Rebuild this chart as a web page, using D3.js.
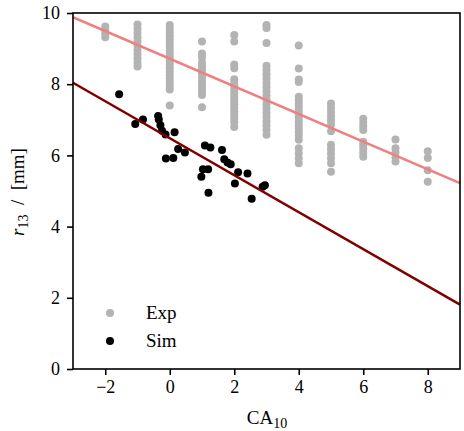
<!DOCTYPE html>
<html lang="en">
<head>
  <meta charset="UTF-8">
  <title>r13 vs CA10</title>
  <script src="https://d3js.org/d3.v7.min.js"></script>
  <style>
    body { margin: 0; background: #fff; }
    svg text { font-family: "Liberation Serif", "DejaVu Serif", serif; }
  </style>
</head>
<body>
<div id="chart"></div>
<script>
// experiment columns: CA10 value and the r13 values measured there
const expX = [-2, -1, 0, 1, 2, 3, 4, 5, 6, 7, 8];
const expY = [
  [9.62, 9.52, 9.42, 9.32],
  [9.68, 9.56, 9.44, 9.32, 9.2, 9.08, 8.96, 8.84, 8.72, 8.6, 8.5],
  [9.66, 9.55, 9.45, 9.35, 9.25, 9.15, 9.05, 8.95, 8.85, 8.75, 8.65, 8.55, 8.45, 8.35, 8.25, 8.15, 8.05, 7.95, 7.85, 7.4],
  [9.2, 8.86, 8.75, 8.6, 8.5, 8.4, 8.3, 8.2, 8.1, 8.0, 7.9, 7.8, 7.7, 7.35],
  [9.38, 9.2, 8.55, 8.45, 8.14, 8.04, 7.94, 7.84, 7.74, 7.64, 7.54, 7.44, 7.34, 7.24, 7.14, 7.04, 6.94, 6.8],
  [9.66, 9.58, 9.16, 8.52, 8.4, 8.28, 8.16, 8.04, 7.92, 7.8, 7.68, 7.56, 7.44, 7.32, 7.2, 7.08, 6.96, 6.84, 6.72, 6.58],
  [9.09, 8.44, 8.13, 8.06, 7.65, 7.55, 7.45, 7.35, 7.25, 7.15, 7.05, 6.95, 6.85, 6.75, 6.65, 6.55, 6.44, 6.2, 6.06, 5.92, 5.78],
  [7.46, 7.34, 7.22, 7.1, 6.98, 6.86, 6.68, 6.3, 6.18, 6.05, 5.92, 5.78, 5.54],
  [7.03, 6.92, 6.82, 6.71, 6.38, 6.28, 6.18, 6.07, 5.96],
  [6.45, 6.2, 6.08, 5.95, 5.83],
  [6.12, 5.93, 5.58, 5.26]
];

// simulation points
const simX = [-1.57, -1.07, -0.83, -0.36, -0.34, -0.29, -0.24, -0.13, 0.15, 0.26, 0.47, -0.12, 0.11,
  1.09, 1.26, 1.62, 1.69, 1.79, 1.89, 2.12, 2.41, 1.03, 1.19, 0.98, 2.02, 1.2, 2.54, 2.88, 2.95];
const simY = [7.72, 6.88, 7.01, 7.11, 7.01, 6.85, 6.69, 6.59, 6.65, 6.18, 6.08, 5.91, 5.93,
  6.28, 6.22, 6.15, 5.89, 5.8, 5.75, 5.53, 5.49, 5.61, 5.61, 5.4, 5.21, 4.95, 4.78, 5.12, 5.16];

// fitted lines, value at each end of the x range
const fitX = [-3, 9];
const expFit = [9.88, 5.22];
const simFit = [8.04, 1.81];

const xTicks = [-2, 0, 2, 4, 6, 8];
const yTicks = [0, 2, 4, 6, 8, 10];

const w = 464, h = 431;
const margin = {top: 13, right: 4, bottom: 62, left: 73};
const gw = w - margin.left - margin.right;
const gh = h - margin.top - margin.bottom;

const svg = d3.select("#chart").append("svg")
  .attr("width", w)
  .attr("height", h);

const graph = svg.append("g")
  .attr("transform", `translate(${margin.left},${margin.top})`);

const x = d3.scaleLinear().domain([-3, 9]).range([0, gw]);
const y = d3.scaleLinear().domain([0, 10]).range([gh, 0]);

const fmt = d => d < 0 ? "\u2212" + Math.abs(d) : "" + d;

// experiment points
const expPts = [];
expX.forEach((cx, i) => expY[i].forEach(v => expPts.push([cx, v])));

graph.selectAll("circle.exp")
  .data(expPts)
  .enter().append("circle")
    .attr("class", "exp")
    .attr("cx", d => x(d[0]))
    .attr("cy", d => y(d[1]))
    .attr("r", 4)
    .attr("fill", "#b3b3b3");

graph.selectAll("circle.sim")
  .data(simX.map((v, i) => [v, simY[i]]))
  .enter().append("circle")
    .attr("class", "sim")
    .attr("cx", d => x(d[0]))
    .attr("cy", d => y(d[1]))
    .attr("r", 4)
    .attr("fill", "#000");

const line = d3.line().x(d => x(d[0])).y(d => y(d[1]));

graph.append("path")
  .datum(fitX.map((v, i) => [v, expFit[i]]))
  .attr("d", line)
  .attr("stroke", "#f08080")
  .attr("stroke-width", 2.5)
  .attr("fill", "none");

graph.append("path")
  .datum(fitX.map((v, i) => [v, simFit[i]]))
  .attr("d", line)
  .attr("stroke", "#800000")
  .attr("stroke-width", 2.5)
  .attr("fill", "none");

// frame
graph.append("rect")
  .attr("width", gw)
  .attr("height", gh)
  .attr("fill", "none")
  .attr("stroke", "#000")
  .attr("stroke-width", 1.6);

const xAxis = d3.axisBottom(x).tickValues(xTicks).tickFormat(fmt).tickSize(6).tickPadding(5);
const yAxis = d3.axisLeft(y).tickValues(yTicks).tickFormat(fmt).tickSize(6).tickPadding(7);

const xg = graph.append("g").attr("transform", `translate(0,${gh})`).call(xAxis);
const yg = graph.append("g").call(yAxis);

[xg, yg].forEach(g => {
  g.attr("font-family", null);
  g.select(".domain").remove();
  g.selectAll("line").attr("stroke-width", 1.6);
  g.selectAll("text")
    .style("font-family", "'Liberation Serif', serif")
    .style("font-size", "18px")
    .attr("fill", "#000");
});

// axis titles
const xt = svg.append("text")
  .attr("x", 267)
  .attr("y", 424)
  .attr("text-anchor", "middle")
  .style("font-size", "19px");
xt.append("tspan").text("CA");
xt.append("tspan").style("font-size", "14px").attr("dy", 4).text("10");

const yt = svg.append("text")
  .attr("transform", "translate(24,192) rotate(-90)")
  .attr("text-anchor", "middle")
  .style("font-size", "19px");
yt.append("tspan").attr("font-style", "italic").text("r");
yt.append("tspan").style("font-size", "14px").attr("dy", 4).text("13");
yt.append("tspan").attr("dy", -4).text("\u2002/\u2002[mm]");

// legend
const legend = [
  {label: "Exp", color: "#b3b3b3"},
  {label: "Sim", color: "#000"}
];
const lg = svg.selectAll("g.legend")
  .data(legend)
  .enter().append("g")
    .attr("class", "legend")
    .attr("transform", (d, i) => `translate(110,${313 + i * 28})`);
lg.append("circle").attr("r", 4).attr("fill", d => d.color);
lg.append("text")
  .attr("x", 36)
  .attr("y", 6)
  .style("font-size", "19px")
  .text(d => d.label);
</script>
</body>
</html>
